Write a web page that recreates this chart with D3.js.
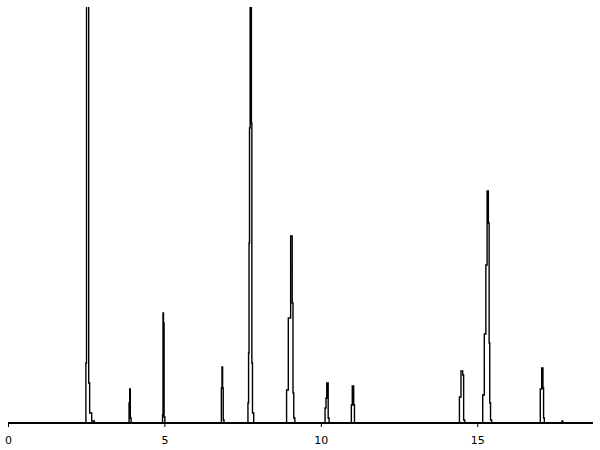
<!DOCTYPE html>
<html>
<head>
<meta charset="utf-8">
<script src="https://cdn.jsdelivr.net/npm/d3@7"></script>
<style>
  body { margin: 0; background: #fff; }
  svg { display: block; }
</style>
</head>
<body>
<svg width="600" height="450"></svg>
<script>
// retention time (min) and detector signal
var times = [
  0, 2.48, 2.50, 2.52, 2.57, 2.59, 2.63, 2.72, 2.80,
  3.86, 3.88, 3.90, 3.92, 3.95,
  4.93, 4.95, 4.96, 4.98, 5.00, 5.03,
  6.81, 6.83, 6.85, 6.87, 6.89, 6.92,
  7.66, 7.68, 7.70, 7.71, 7.73, 7.75, 7.77, 7.79, 7.80, 7.83, 7.88,
  8.89, 8.92, 9.00, 9.07, 9.10, 9.12, 9.15, 9.19,
  10.12, 10.15, 10.18, 10.20, 10.22, 10.25, 10.28,
  10.96, 10.99, 11.02, 11.04, 11.06, 11.09,
  14.42, 14.44, 14.52, 14.55, 14.58, 14.62,
  15.16, 15.19, 15.26, 15.29, 15.34, 15.37, 15.39, 15.41, 15.44, 15.48,
  17.00, 17.03, 17.09, 17.11, 17.13, 17.16,
  17.70, 17.72, 17.74,
  18.70
];
var signal = [
  0, 0, 60, 1500, 1500, 40, 10, 2, 0,
  0, 20, 34, 5, 0,
  0, 8, 110, 100, 6, 0,
  0, 35, 56, 35, 3, 0,
  0, 20, 70, 180, 295, 1500, 1500, 300, 60, 10, 0,
  0, 33, 105, 187, 120, 30, 5, 0,
  0, 15, 25, 40, 40, 5, 0,
  0, 18, 37, 37, 18, 0,
  0, 26, 52, 48, 3, 0,
  0, 28, 89, 158, 232, 200, 80, 20, 3, 0,
  0, 34, 55, 35, 5, 0,
  0, 2, 0,
  0
];
var tickValues = [0, 5, 10, 15];

var svg = d3.select("svg"),
    plotLeft = 8, plotRight = 593, plotTop = 7, plotBase = 423;

var x = d3.scaleLinear().domain([0, 18.7]).range([plotLeft, plotRight]);
var y = d3.scaleLinear().domain([0, 416]).range([plotBase, plotTop]);

svg.append("clipPath").attr("id", "clip")
  .append("rect")
    .attr("x", 0).attr("y", plotTop)
    .attr("width", 600).attr("height", plotBase - plotTop + 2);

var pts = times.map(function(t, i) { return [t, signal[i]]; });

// detector trace is drawn stepwise like the original plotter output
var line = d3.line()
    .curve(d3.curveStep)
    .x(function(d) { return x(d[0]); })
    .y(function(d) { return y(d[1]); });

svg.append("path")
    .datum(pts)
    .attr("clip-path", "url(#clip)")
    .attr("fill", "none")
    .attr("stroke", "#000")
    .attr("stroke-width", 1.4)
    .attr("d", line);

// time axis
var axis = svg.append("g")
    .attr("transform", "translate(0," + plotBase + ")")
    .call(d3.axisBottom(x).tickValues(tickValues).tickSize(4).tickPadding(9)
      .tickFormat(d3.format("d")));
axis.select(".domain")
    .attr("stroke", "#000")
    .attr("stroke-width", 2)
    .attr("d", "M" + plotLeft + ",0H" + plotRight);
axis.selectAll(".tick line").attr("stroke", "#000").attr("stroke-width", 1);
axis.selectAll(".tick text")
    .attr("fill", "#000")
    .attr("font-family", "DejaVu Sans, sans-serif")
    .attr("font-size", 11);
</script>
</body>
</html>
